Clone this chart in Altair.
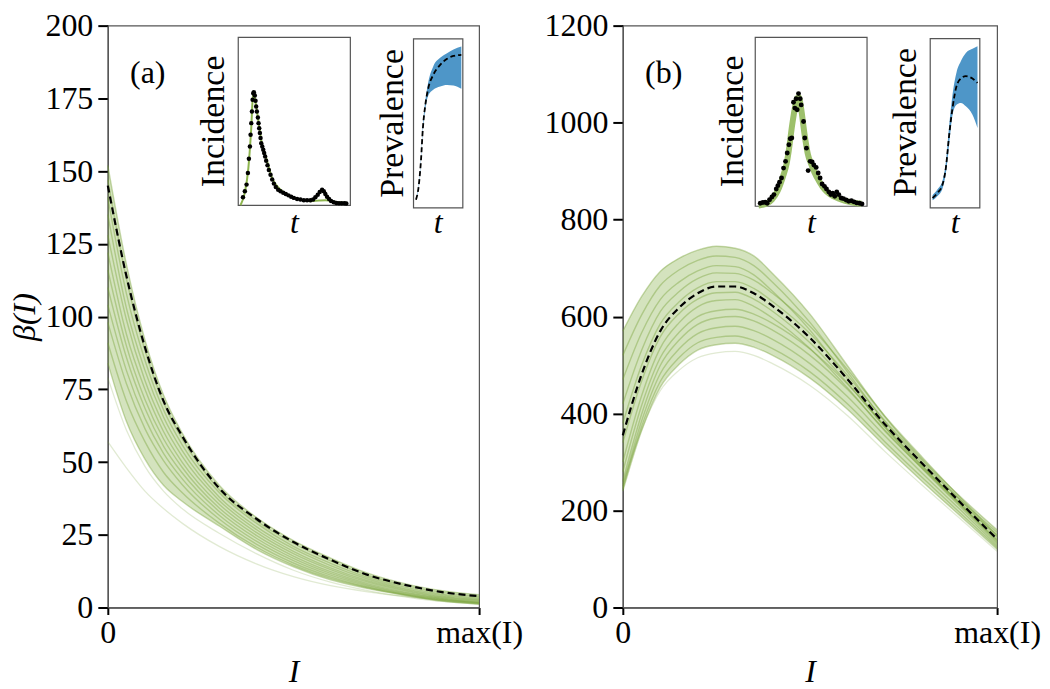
import altair as alt
import pandas as pd

FONT = "Liberation Serif, DejaVu Serif, serif"
GREEN_LINE = "#76a035"
GREEN_FILL = "#8db553"
INSET_GREEN = "#8db44e"
BLUE = "#4e96c8"

# ---------------- panel (a): main curves ----------------
I_A = [0, 0.05, 0.1, 0.15, 0.2, 0.3, 0.4, 0.5, 0.6, 0.7, 0.8, 0.9, 1.0]
MEAN_A = [145, 114, 89.5, 71, 59, 41, 30.5, 22.5, 16.4, 11.2, 7.8, 5.3, 3.9]
CURVES_A = {
    "a01": [152, 118, 92, 73, 60, 42, 31, 23, 17, 11.8, 8.2, 5.8, 4.4],
    "a02": [147, 113, 88.5, 70.5, 58, 40.5, 29.8, 22, 16, 11, 7.6, 5.2, 3.8],
    "a03": [141, 108, 85, 68, 56, 39.5, 29, 21, 15.2, 10.4, 7, 4.6, 3.3],
    "a04": [135, 103, 81.5, 65.5, 54, 38, 27.8, 20.2, 14.4, 9.8, 6.5, 4.2, 2.9],
    "a05": [128, 99, 78, 63, 52, 36.8, 26.8, 19.3, 13.6, 9.2, 6.1, 3.8, 2.6],
    "a06": [122, 94, 75, 60.5, 50, 35.5, 25.8, 18.5, 13, 8.7, 5.7, 3.5, 2.3],
    "a07": [116, 90, 71.5, 58, 48.2, 34.2, 24.8, 17.7, 12.3, 8.2, 5.3, 3.2, 2.0],
    "a08": [110, 86, 68.5, 55.5, 46.3, 33, 23.8, 16.9, 11.7, 7.8, 5.0, 3.0, 1.8],
    "a09": [104, 81.5, 65, 53, 44.3, 31.7, 22.8, 16.1, 11.1, 7.4, 4.7, 2.8, 1.6],
    "a10": [98, 77, 61.5, 50.5, 42.3, 30.4, 21.8, 15.3, 10.5, 7.0, 4.5, 2.6, 1.5],
    "a11": [91, 71, 57, 46.5, 39.5, 29, 20.8, 14.6, 10, 6.8, 4.3, 2.4, 1.3],
    "a12": [84, 64, 51, 42, 36.5, 28, 20, 14, 9.5, 6.5, 4.2, 2.2, 1.2],
}
FAINT_A = {
    "a13": [79, 61, 48.5, 40, 34, 25.5, 18.5, 12.8, 8.7, 5.8, 3.7, 2.1, 1.1],
    "a14": [57, 48, 40, 34, 29, 21, 15, 10.6, 7.5, 5.4, 3.8, 2.5, 1.7],
}
YTICKS_A = [0, 25, 50, 75, 100, 125, 150, 175, 200]

# ---------------- panel (b): main curves ----------------
I_B = [0, 0.05, 0.1, 0.15, 0.2, 0.25, 0.3, 0.35, 0.4, 0.5, 0.6, 0.7, 0.8, 0.9, 1.0]
MEAN_B = [355, 480, 570, 618, 648, 662, 662, 648, 622, 556, 471, 378, 297, 218, 141]
CURVES_B = {
    "b01": [570, 641, 693, 720, 737, 745, 741, 725, 689, 605, 499, 394, 306, 230, 160],
    "b02": [520, 603, 664, 696, 716, 725, 722, 705, 671, 588, 486, 383, 298, 223, 155],
    "b03": [470, 566, 635, 671, 694, 705, 703, 686, 652, 572, 472, 372, 289, 217, 150],
    "b04": [420, 530, 610, 651, 678, 690, 689, 675, 648, 580, 491, 395, 310, 228, 148],
    "b05": [380, 499, 585, 630, 659, 672, 672, 658, 631, 565, 479, 385, 303, 223, 145],
    "b06": [340, 466, 558, 606, 636, 649, 650, 636, 611, 546, 463, 372, 292, 215, 140],
    "b07": [300, 436, 535, 587, 620, 633, 635, 621, 597, 534, 453, 364, 287, 212, 138],
    "b08": [280, 416, 515, 567, 600, 612, 615, 605, 586, 533, 461, 375, 293, 214, 135],
    "b09": [260, 398, 499, 551, 584, 597, 600, 591, 572, 520, 450, 366, 286, 209, 132],
    "b10": [250, 384, 482, 533, 565, 577, 580, 571, 553, 503, 435, 354, 277, 203, 128],
    "b11": [245, 373, 466, 515, 546, 557, 560, 551, 534, 486, 420, 342, 268, 196, 124],
    "b12": [240, 364, 454, 501, 531, 542, 545, 537, 520, 473, 409, 333, 260, 190, 120],
}
FAINT_B = {
    "b13": [255, 366, 447, 489, 515, 525, 528, 520, 503, 458, 396, 322, 252, 184, 116],
}
YTICKS_B = [0, 200, 400, 600, 800, 1000, 1200]

# ---------------- insets (arbitrary 0-100 units) ----------------
INC_A_T = [4.2, 5.9, 7.4, 8.6, 9.5, 10.4, 11.0, 11.6, 12.2, 12.8, 13.4, 13.9, 14.8, 15.4,
           16.0, 16.6, 17.5, 18.1, 18.7, 19.3, 19.9, 20.5, 21.4, 22.3, 23.1, 24.0, 24.9,
           26.1, 27.3, 28.8, 30.3, 31.8, 33.5, 35.6, 37.7, 40.1, 42.4, 44.8, 47.2, 49.6,
           52.5, 55.5, 58.5, 61.4, 64.4, 66.8, 68.8, 70.9, 72.7, 74.8, 76.3, 77.7, 79.2,
           81.0, 82.8, 85.2, 87.5, 89.9, 92.3, 94.7, 96.4]
INC_A_Y = [4.8, 8.3, 12.3, 19.2, 27.7, 35.0, 42.0, 48.9, 55.8, 62.8, 66.7, 67.3, 65.3, 62.2,
           58.8, 55.8, 52.3, 48.9, 45.9, 43.0, 40.0, 37.0, 35.0, 33.1, 31.1, 29.1, 26.5,
           23.8, 21.0, 18.2, 15.4, 12.9, 10.9, 9.3, 8.3, 7.5, 6.7, 5.9, 5.1, 4.4,
           3.8, 3.4, 3.0, 3.0, 3.0, 3.4, 4.8, 6.3, 7.9, 9.3, 8.3, 6.7, 5.1,
           3.8, 2.6, 1.8, 1.4, 1.2, 1.2, 1.2, 1.0]
FIT_A_T = [2, 6, 9, 11.5, 13.4, 15.5, 18, 21, 25, 30, 37.7, 45, 55, 64.4, 72, 78, 88, 97]
FIT_A_Y = [0, 8, 22, 45, 67.7, 61, 50, 37, 28, 16.5, 9.3, 5.8, 3.6, 2.4, 2.8, 3.0, 1.8, 1.4]

PREV_A_T = [5, 10, 15, 19, 24, 30, 40, 54, 68, 81, 97]
PREV_A_MEAN = [4.9, 11.8, 27.6, 47.2, 61.0, 70.9, 78.7, 84.6, 88.2, 89.9, 90.6]
PREV_A_HI = [5.5, 12.5, 29, 49, 63.5, 74.5, 83.7, 88.8, 91.5, 93.8, 95.5]
PREV_A_LO = [4.5, 11, 26.5, 45.5, 58.5, 66.5, 69.9, 71.9, 72.8, 72.4, 70.5]

INC_B_T = [4.5, 6.8, 8.9, 10.7, 12.8, 14.9, 16.7, 18.8, 20.2, 21.7, 23.5, 25.3, 27.1, 28.6,
           30.1, 31.3, 32.7, 34.2, 35.4, 36.6, 37.5, 38.7, 40.2, 41.1, 43.2, 44.3, 45.8,
           47.3, 49.1, 50.9, 52.4, 54.5, 56.3, 58.0, 59.8, 61.9, 63.7, 65.8, 67.6, 69.3,
           71.1, 72.9, 74.7, 76.8, 78.9, 81.3, 83.6, 86.0, 88.4, 90.8, 93.2, 95.5]
INC_B_Y = [1.8, 2.2, 2.4, 1.8, 3.9, 5.5, 6.9, 10.2, 12.2, 14.2, 16.7, 22.6, 26.6, 31.5,
           36.4, 40.0, 40.4, 61.6, 58.1, 63.6, 57.1, 66.7, 63.6, 60.0, 50.2, 40.4, 34.4,
           21.1, 26.6, 26.2, 24.4, 23.0, 19.7, 16.7, 13.2, 11.8, 10.2, 8.5, 6.9, 7.7,
           5.9, 8.5, 6.9, 4.9, 4.5, 3.7, 3.0, 3.3, 2.6, 2.0, 1.8, 1.4]
FIT_B_T = [3, 10, 15, 20, 25, 28, 30, 33, 36, 37.5, 39, 41, 44, 47, 50, 53, 57, 62, 67, 75, 85, 95]
FIT_B_Y = [0.5, 1.5, 4, 9, 18, 25, 33, 48, 60, 64, 64.5, 58, 43, 31, 25, 20, 15, 10, 7, 4.5, 2.5, 1.5]

PREV_B_T = [4.7, 14.8, 24.8, 31.5, 38.3, 45, 53, 61.7, 71.8, 85.2, 95.3]
PREV_B_MEAN = [5.9, 8.9, 13.8, 23.6, 43.3, 59.1, 71.9, 76.4, 77.8, 76.4, 73.8]
PREV_B_HI = [7.5, 11, 16, 27, 49, 67, 80, 86.6, 91.5, 94, 95.5]
PREV_B_LO = [4.5, 7, 11.5, 20.5, 38, 55, 61, 62, 60, 55, 47.2]

# ---------------- layout constants (pixels) ----------------
PLOT_TOP = 24          # page y of the plot top
A_LEFT, B_LEFT = 107, 623
W_A, W_B, H = 372, 375, 583


def long_df(xs, curves):
    return pd.DataFrame([{"I": x, "beta": v, "curve": k}
                         for k, vals in curves.items() for x, v in zip(xs, vals)])


def main_layer(xs, curves, faint, mean, ymax, yticks, ytitle):
    df = long_df(xs, curves)
    df_f = long_df(xs, faint)
    band = df.groupby("I")["beta"].agg(["min", "max"]).reset_index()
    band.columns = ["I", "beta", "beta2"]
    df_mean = pd.DataFrame({"I": xs, "beta": mean})

    xe = alt.X("I:Q", scale=alt.Scale(domain=[0, 1], nice=False, zero=False),
               axis=alt.Axis(values=[0, 1], labelExpr="datum.value == 0 ? '0' : 'max(I)'",
                             title="I", titleFontStyle="italic", labelFlush=False))
    yaxis = alt.Axis(values=yticks, format="d", title=ytitle if ytitle else "",
                     titleFontStyle="italic")
    ye = alt.Y("beta:Q", scale=alt.Scale(domain=[0, ymax], nice=False), axis=yaxis)

    area = alt.Chart(band).mark_area(color=GREEN_FILL, opacity=0.38, interpolate="monotone").encode(
        x=xe, y=ye, y2="beta2:Q")
    lines = alt.Chart(df).mark_line(color=GREEN_LINE, strokeWidth=1.4, opacity=0.4,
                                    interpolate="monotone").encode(x=xe, y=ye, detail="curve:N")
    flines = alt.Chart(df_f).mark_line(color=GREEN_LINE, strokeWidth=1.3, opacity=0.22,
                                       interpolate="monotone").encode(x=xe, y=ye, detail="curve:N")
    dashed = alt.Chart(df_mean).mark_line(color="black", strokeWidth=2.2, strokeDash=[7, 4],
                                          interpolate="monotone").encode(x=xe, y=ye)
    return alt.layer(area, flines, lines, dashed)


def iscale(lo, hi):
    return alt.Scale(domain=[0, 100], range=[lo, hi], nice=False, zero=False)


def inset_layers(box, left):
    """box: page coords (x0, x1, ytop, ybot)"""
    x0, x1, yt, yb = box
    xs = iscale(x0 - left, x1 - left)
    ys = iscale(yb - PLOT_TOP, yt - PLOT_TOP)
    frame = alt.Chart(pd.DataFrame({"x0": [0], "x1": [100], "y0": [0], "y1": [100]})).mark_rect(
        fill="white", stroke="#555", strokeWidth=1.2).encode(
        x=alt.X("x0:Q", scale=xs, axis=None), x2="x1:Q",
        y=alt.Y("y0:Q", scale=ys, axis=None), y2="y1:Q")
    return xs, ys, frame


def incidence(box, left, dt, dy, ft, fy, fit_width, fit_color, dot_size):
    xs, ys, frame = inset_layers(box, left)
    fit = alt.Chart(pd.DataFrame({"t": ft, "v": fy})).mark_line(
        color=fit_color, strokeWidth=fit_width, interpolate="monotone").encode(
        x=alt.X("t:Q", scale=xs, axis=None), y=alt.Y("v:Q", scale=ys, axis=None))
    dots = alt.Chart(pd.DataFrame({"t": dt, "v": dy})).mark_circle(
        color="black", opacity=1, size=dot_size).encode(
        x=alt.X("t:Q", scale=xs, axis=None), y=alt.Y("v:Q", scale=ys, axis=None))
    return [frame, fit, dots]


def prevalence(box, left, t, mean, lo, hi):
    xs, ys, frame = inset_layers(box, left)
    df = pd.DataFrame({"t": t, "m": mean, "lo": lo, "hi": hi})
    band = alt.Chart(df).mark_area(color=BLUE, opacity=1, interpolate="monotone").encode(
        x=alt.X("t:Q", scale=xs, axis=None), y=alt.Y("lo:Q", scale=ys, axis=None), y2="hi:Q")
    line = alt.Chart(df).mark_line(color="black", strokeWidth=1.8, strokeDash=[5, 3],
                                   interpolate="monotone").encode(
        x=alt.X("t:Q", scale=xs, axis=None), y=alt.Y("m:Q", scale=ys, axis=None))
    return [frame, band, line]


def label(text, px, py, left, size=32, angle=0, italic=False):
    return alt.Chart(pd.DataFrame({"s": [text]})).mark_text(
        font=FONT, fontSize=size, angle=angle, fontStyle="italic" if italic else "normal",
        align="center", baseline="middle", color="black").encode(
        x=alt.value(px - left), y=alt.value(py - PLOT_TOP), text="s:N")


# ---------------- assemble panel (a) ----------------
layers_a = [main_layer(I_A, CURVES_A, FAINT_A, MEAN_A, 200, YTICKS_A, "β(I)")]
layers_a += incidence((237.7, 350, 35.7, 204), A_LEFT, INC_A_T, INC_A_Y, FIT_A_T, FIT_A_Y,
                      2, INSET_GREEN, 20)
layers_a += prevalence((413.3, 462.7, 37.3, 206.7), A_LEFT, PREV_A_T, PREV_A_MEAN, PREV_A_LO, PREV_A_HI)
layers_a += [
    label("(a)", 147, 71, A_LEFT),
    label("Incidence", 213, 120, A_LEFT, size=34, angle=270),
    label("Prevalence", 393, 122, A_LEFT, size=34, angle=270),
    label("t", 294, 222, A_LEFT, italic=True),
    label("t", 438, 222, A_LEFT, italic=True),
]
panel_a = alt.layer(*layers_a).resolve_scale(x="independent", y="independent").properties(
    width=W_A, height=H)

# ---------------- assemble panel (b) ----------------
layers_b = [main_layer(I_B, CURVES_B, FAINT_B, MEAN_B, 1200, YTICKS_B, None)]
layers_b += incidence((755.7, 867.7, 35.7, 205), B_LEFT, INC_B_T, INC_B_Y, FIT_B_T, FIT_B_Y,
                      6, "#9dc06b", 24)
layers_b += prevalence((931, 980.7, 37, 206.7), B_LEFT, PREV_B_T, PREV_B_MEAN, PREV_B_LO, PREV_B_HI)
layers_b += [
    label("(b)", 664, 71, B_LEFT),
    label("Incidence", 733, 120, B_LEFT, size=34, angle=270),
    label("Prevalence", 907, 121, B_LEFT, size=34, angle=270),
    label("t", 812, 222, B_LEFT, italic=True),
    label("t", 956, 222, B_LEFT, italic=True),
]
panel_b = alt.layer(*layers_b).resolve_scale(x="independent", y="independent").properties(
    width=W_B, height=H)

chart = alt.hconcat(panel_a, panel_b, spacing=B_LEFT - A_LEFT - W_A, bounds="flush").properties(
    padding={"left": 0, "top": 0, "right": 0, "bottom": 0}
).configure(font=FONT).configure_view(stroke="#555", strokeWidth=1.2).configure_axis(
    labelFont=FONT, titleFont=FONT, labelFontSize=32, titleFontSize=32,
    labelColor="black", titleColor="black", titleFontWeight="normal",
    domainColor="#555", domainWidth=1.3, tickColor="black", tickWidth=2, grid=False
).configure_axisX(tickSize=7, labelPadding=3, titlePadding=8).configure_axisY(
    tickSize=10, labelPadding=5, titlePadding=3)

chart.save("out.html", embed_options={"renderer": "svg", "actions": False})
